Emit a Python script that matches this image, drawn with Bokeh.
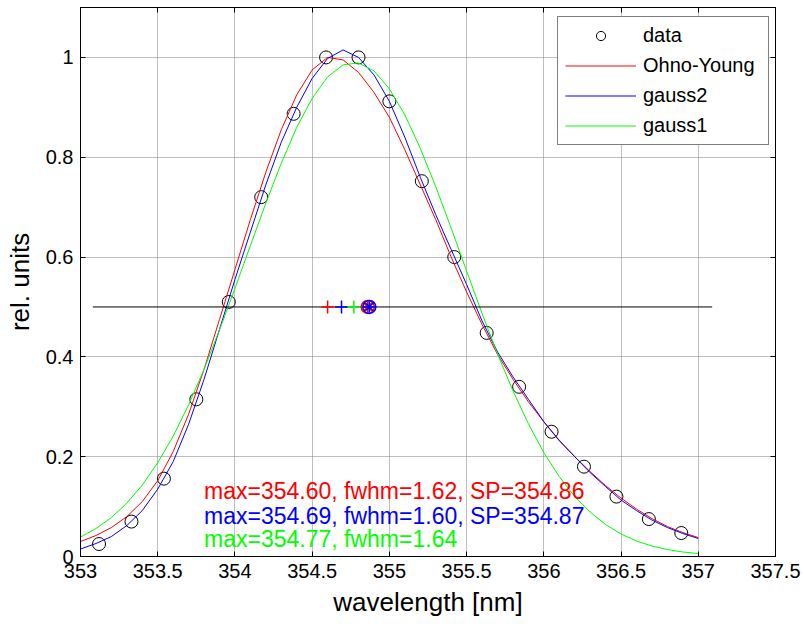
from bokeh.plotting import figure
from bokeh.models import Range1d, FixedTicker, LinearAxis, Legend, LegendItem, Label, CustomJSTickFormatter
from bokeh.embed import file_html
from bokeh.resources import INLINE

# ---- data ----
wl_data = [353.12, 353.33, 353.54, 353.75, 353.96, 354.17, 354.38, 354.59, 354.80, 355.00,
           355.21, 355.42, 355.63, 355.84, 356.05, 356.26, 356.47, 356.68, 356.89]
rel_data = [0.025, 0.070, 0.156, 0.315, 0.510, 0.720, 0.887, 1.000, 1.000, 0.912,
            0.752, 0.600, 0.448, 0.340, 0.250, 0.180, 0.120, 0.075, 0.047]

wl_fit = [353.0, 353.1, 353.2, 353.3, 353.4, 353.5, 353.6, 353.7, 353.8, 353.9,
          354.0, 354.1, 354.2, 354.3, 354.4, 354.5, 354.6, 354.7, 354.8, 354.9,
          355.0, 355.1, 355.2, 355.3, 355.4, 355.5, 355.6, 355.7, 355.8, 355.9,
          356.0, 356.1, 356.2, 356.3, 356.4, 356.5, 356.6, 356.7, 356.8, 356.9, 357.0]
ohno_young = [0.030, 0.042, 0.058, 0.080, 0.110, 0.152, 0.210, 0.285, 0.375, 0.475,
              0.575, 0.675, 0.770, 0.855, 0.925, 0.975, 1.000, 0.995, 0.970, 0.930,
              0.880, 0.815, 0.745, 0.675, 0.600, 0.530, 0.465, 0.405, 0.355, 0.310,
              0.270, 0.233, 0.200, 0.170, 0.142, 0.117, 0.095, 0.076, 0.060, 0.048, 0.038]
gauss2 = [0.015, 0.026, 0.040, 0.062, 0.092, 0.135, 0.190, 0.265, 0.355, 0.455,
          0.555, 0.650, 0.745, 0.830, 0.900, 0.958, 0.998, 1.015, 1.000, 0.965,
          0.912, 0.840, 0.760, 0.685, 0.615, 0.545, 0.472, 0.410, 0.360, 0.315,
          0.270, 0.232, 0.200, 0.168, 0.140, 0.113, 0.092, 0.073, 0.058, 0.046, 0.036]
gauss1 = [0.039, 0.056, 0.078, 0.107, 0.143, 0.188, 0.241, 0.304, 0.375, 0.454,
          0.537, 0.623, 0.708, 0.788, 0.860, 0.918, 0.961, 0.985, 0.989, 0.973,
          0.937, 0.885, 0.818, 0.741, 0.658, 0.572, 0.487, 0.406, 0.332, 0.266,
          0.208, 0.160, 0.120, 0.089, 0.064, 0.045, 0.031, 0.021, 0.014, 0.009, 0.006]

peak_max = [354.60, 354.69, 354.77]          # Ohno-Young, gauss2, gauss1
sp_red = [354.86]
sp_blue = [354.87]
half_line_x = [353.08, 357.09]
half_line_y = [0.5, 0.5]

x_ticks = [353, 353.5, 354, 354.5, 355, 355.5, 356, 356.5, 357, 357.5]
x_tick_labels = ["353", "353.5", "354", "354.5", "355", "355.5", "356", "356.5", "357", "357.5"]
y_ticks = [0, 0.2, 0.4, 0.6, 0.8, 1]
y_tick_labels = ["0", "0.2", "0.4", "0.6", "0.8", "1"]

annot_lines = ["max=354.60, fwhm=1.62, SP=354.86",
               "max=354.69, fwhm=1.60, SP=354.87",
               "max=354.77, fwhm=1.64"]

RED, BLUE, GREEN = "#ff0000", "#0000ff", "#00ff00"
FONT = "Liberation Sans"

p = figure(width=803, height=624, output_backend="svg", toolbar_location=None,
           x_range=Range1d(353, 357.5), y_range=Range1d(0, 1.1))
p.min_border_left = 80
p.min_border_right = 28
p.min_border_top = 7
p.min_border_bottom = 68
p.outline_line_color = "black"
p.outline_line_width = 1
p.background_fill_color = "white"
p.border_fill_color = "white"

xt = FixedTicker(ticks=x_ticks)
yt = FixedTicker(ticks=y_ticks)
p.xaxis.ticker = xt
p.yaxis.ticker = yt
p.xaxis.major_label_overrides = {t: l for t, l in zip(x_ticks, x_tick_labels)}
p.yaxis.major_label_overrides = {t: l for t, l in zip(y_ticks, y_tick_labels)}
for ax in (p.xaxis[0], p.yaxis[0]):
    ax.major_tick_in = 5
    ax.major_tick_out = 0
    ax.minor_tick_line_color = None
    ax.axis_line_color = "black"
    ax.major_tick_line_color = "black"
    ax.major_label_text_font = FONT
    ax.major_label_text_font_size = "20px"
    ax.major_label_text_color = "black"
    ax.axis_label_text_font = FONT
    ax.axis_label_text_font_size = "26px"
    ax.axis_label_text_font_style = "normal"
    ax.axis_label_text_color = "black"
p.xaxis.axis_label = "wavelength [nm]"
p.yaxis.axis_label = "rel. units"
p.xaxis.major_label_standoff = 7
p.yaxis.major_label_standoff = 7
p.xaxis.axis_label_standoff = 6
p.yaxis.axis_label_standoff = 8

top = LinearAxis(ticker=xt, formatter=CustomJSTickFormatter(code="return '';"),
                 major_tick_in=5, major_tick_out=0,
                 minor_tick_line_color=None, major_label_standoff=0, axis_line_color="black")
right = LinearAxis(ticker=yt, formatter=CustomJSTickFormatter(code="return '';"),
                   major_tick_in=5, major_tick_out=0,
                   minor_tick_line_color=None, major_label_standoff=0, axis_line_color="black")
p.add_layout(top, "above")
p.add_layout(right, "right")

for g in (p.xgrid[0], p.ygrid[0]):
    g.grid_line_color = "#7f7f7f"
    g.grid_line_dash = "1 1"
    g.grid_line_width = 1
p.xgrid.ticker = xt
p.ygrid.ticker = yt

# curves
r_data = p.scatter(wl_data, rel_data, marker="circle", size=13, fill_color=None,
                   line_color="black", line_width=1)
r_oy = p.line(wl_fit, ohno_young, line_color=RED, line_width=1)
r_g2 = p.line(wl_fit, gauss2, line_color=BLUE, line_width=1)
r_g1 = p.line(wl_fit, gauss1, line_color=GREEN, line_width=1)

# half-level line and markers
p.line(half_line_x, half_line_y, line_color="black", line_width=1)
p.scatter(peak_max, [0.5, 0.5, 0.5], marker="cross", size=13,
          line_color=[RED, BLUE, GREEN], line_width=1.5)
p.scatter(sp_red, [0.5], marker="circle", size=13, fill_color=None, line_color=RED, line_width=1.5)
p.scatter(sp_red, [0.5], marker="asterisk", size=11, line_color=RED, line_width=1.5)
p.scatter(sp_blue, [0.5], marker="circle", size=13, fill_color=None, line_color=BLUE, line_width=1.5)
p.scatter(sp_blue, [0.5], marker="asterisk", size=11, line_color=BLUE, line_width=1.5)

# annotation text
for txt, yy, col in zip(annot_lines, [0.132, 0.082, 0.036], [RED, BLUE, GREEN]):
    p.add_layout(Label(x=353.80, y=yy, text=txt, text_color=col, text_font=FONT,
                       text_font_size="23px", text_baseline="alphabetic"))

legend = Legend(items=[LegendItem(label="data", renderers=[r_data]),
                       LegendItem(label="Ohno-Young", renderers=[r_oy]),
                       LegendItem(label="gauss2", renderers=[r_g2]),
                       LegendItem(label="gauss1", renderers=[r_g1])],
                location=(477, 411), orientation="vertical")
legend.label_text_font = FONT
legend.label_text_font_size = "20px"
legend.label_text_color = "black"
legend.border_line_color = "black"
legend.border_line_width = 1
legend.background_fill_color = "white"
legend.background_fill_alpha = 1
legend.padding = 7
legend.spacing = 7
legend.label_height = 23
legend.glyph_height = 23
legend.glyph_width = 71
legend.label_standoff = 7
legend.label_width = 118
legend.margin = 0
p.add_layout(legend, "center")

open("out.html", "w").write(file_html(p, INLINE))
